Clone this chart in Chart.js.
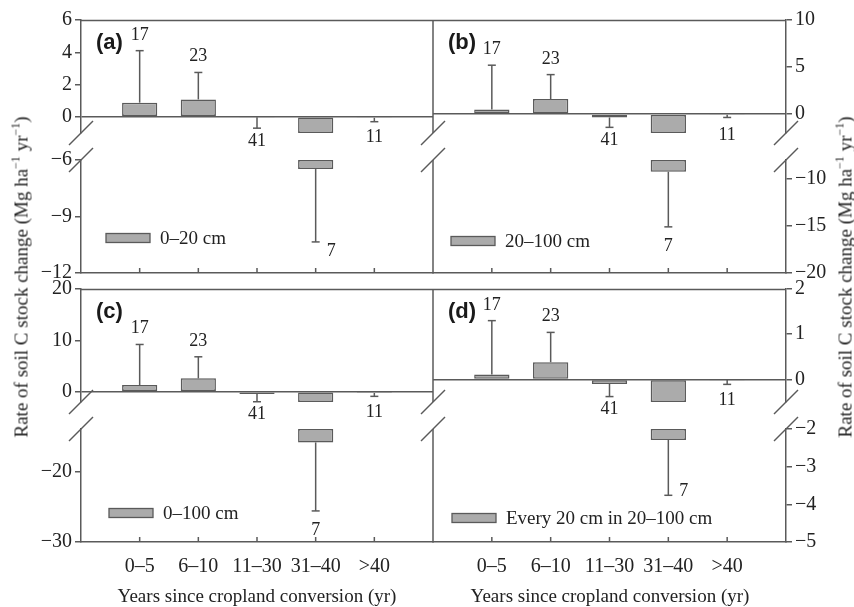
<!DOCTYPE html>
<html>
<head>
<meta charset="utf-8">
<script src="https://cdn.jsdelivr.net/npm/chart.js@4/dist/chart.umd.min.js"></script>
<style>
html,body{margin:0;padding:0;background:#fff;}
#wrap{position:relative;width:854px;height:607px;overflow:hidden;background:#fff;}
#wrap canvas{position:absolute;left:0;top:0;}
.t{position:absolute;font-family:'Liberation Serif','Times New Roman',serif;font-size:19px;color:#222;white-space:nowrap;line-height:1;}
.t sup{font-size:12px;line-height:1;position:relative;top:-2px;vertical-align:top;}
.rot{transform:translate(-50%,-50%) rotate(-90deg);}
.ctr{transform:translate(-50%,-50%);}
</style>
</head>
<body>
<div id="wrap">
  <canvas id="ca" width="854" height="607"></canvas>
  <canvas id="cb" width="854" height="607"></canvas>
  <canvas id="cc" width="854" height="607"></canvas>
  <canvas id="cd" width="854" height="607"></canvas>
  <div class="t rot" style="left:21px;top:277px;">Rate of soil C stock change (Mg ha<sup>−1</sup> yr<sup>−1</sup>)</div>
  <div class="t rot" style="left:845px;top:277px;">Rate of soil C stock change (Mg ha<sup>−1</sup> yr<sup>−1</sup>)</div>
  <div class="t ctr" style="left:257px;top:595px;">Years since cropland conversion (yr)</div>
  <div class="t ctr" style="left:610px;top:595px;">Years since cropland conversion (yr)</div>
</div>
<script>
// ---------------- data ----------------
const categories = ['0–5', '6–10', '11–30', '31–40', '>40'];
const sampleSizes = [17, 23, 41, 7, 11];

const rate0to20 = [0.88, 1.08, -0.03, -6.48, -0.06];
const err0to20  = [3.22, 1.67, 0.67, 3.87, 0.24];

const rate20to100 = [0.5, 1.6, -0.35, -9.25, -0.05];
const err20to100  = [4.7, 2.6, 1.05, 5.85, 0.3];

const rate0to100 = [1.3, 2.6, -0.45, -15.9, -0.25];
const err0to100  = [7.9, 4.2, 1.5, 9.7, 0.65];

const rateEvery20 = [0.11, 0.38, -0.1, -2.29, -0.01];
const errEvery20  = [1.19, 0.66, 0.28, 1.47, 0.1];

const ticksA_upper = [0, 2, 4, 6];
const ticksA_lower = [-12, -9, -6];
const ticksB_upper = [0, 5, 10];
const ticksB_lower = [-20, -15, -10];
const ticksC_upper = [0, 10, 20];
const ticksC_lower = [-30, -20];
const ticksD_upper = [0, 1, 2];
const ticksD_lower = [-5, -4, -3, -2];

// ---------------- style ----------------
const LINE = '#5a5a5a';
const TEXT = '#222222';
const BAR = '#ababab';
const SERIF = "'Liberation Serif','Times New Roman',serif";
const SANS = "'Liberation Sans',Arial,sans-serif";
const AXW = 46, XH = 40;
const W_UP = 113, W_GAP = 27, W_LOW = 113;

const panels = [
  {id:'ca', tag:'(a)', label:'0–20 cm', values:rate0to20, errors:err0to20,
   upper:[-1, 6], lower:[-12, -6], upTicks:ticksA_upper, lowTicks:ticksA_lower,
   side:'left', area:{left:81, right:433, top:20, bottom:273}, showX:false,
   legend:{dx:25, dy:-35}, sideLabel:{index:3, dy:14}},
  {id:'cb', tag:'(b)', label:'20–100 cm', values:rate20to100, errors:err20to100,
   upper:[-2, 10], lower:[-20, -8], upTicks:ticksB_upper, lowTicks:ticksB_lower,
   side:'right', area:{left:433, right:786, top:20, bottom:273}, showX:false,
   legend:{dx:18, dy:-32}, sideLabel:null},
  {id:'cc', tag:'(c)', label:'0–100 cm', values:rate0to100, errors:err0to100,
   upper:[-2, 20], lower:[-30, -14], upTicks:ticksC_upper, lowTicks:ticksC_lower,
   side:'left', area:{left:81, right:433, top:289, bottom:542}, showX:true,
   legend:{dx:28, dy:-29}, sideLabel:null},
  {id:'cd', tag:'(d)', label:'Every 20 cm in 20–100 cm', values:rateEvery20, errors:errEvery20,
   upper:[-0.5, 2], lower:[-5, -2], upTicks:ticksD_upper, lowTicks:ticksD_lower,
   side:'right', area:{left:433, right:786, top:289, bottom:542}, showX:true,
   legend:{dx:19, dy:-24}, sideLabel:{index:3, dy:1}}
];

const fmt = v => (v < 0 ? '−' + Math.abs(v) : String(v));

function line(ctx, x1, y1, x2, y2) {
  ctx.beginPath(); ctx.moveTo(x1, y1); ctx.lineTo(x2, y2); ctx.stroke();
}

function makeDecor(p) {
  return {
    id: 'decor_' + p.id,
    afterDraw(chart) {
      const ctx = chart.ctx, a = chart.chartArea;
      const xs = chart.scales.x, yT = chart.scales.yTop, yB = chart.scales.yBot;
      const pix = v => (v >= p.upper[0] ? yT : yB).getPixelForValue(v);
      ctx.save();
      ctx.strokeStyle = LINE;
      ctx.lineWidth = 1.5;
      ctx.lineCap = 'butt';
      // frame: top line
      line(ctx, a.left, a.top + 0.5, a.right, a.top + 0.5);
      // opposite spine (left panels draw the shared middle line)
      if (p.side === 'left') {
        line(ctx, a.right, yT.top, a.right, yT.bottom);
        line(ctx, a.right, yB.top, a.right, yB.bottom);
      }
      // break marks
      const sx = p.side === 'left' ? [a.left, a.right] : [a.right];
      sx.forEach(x => {
        [yT.bottom, yB.top].forEach(y => line(ctx, x - 12, y + 12, x + 12, y - 12));
      });
      // inward x ticks
      categories.forEach((c, i) => {
        const cx = xs.getPixelForValue(i + 1);
        line(ctx, cx, a.bottom, cx, a.bottom - 5);
      });
      // error bars and sample sizes
      const zero = yT.getPixelForValue(0);
      ctx.fillStyle = TEXT;
      ctx.font = '18px ' + SERIF;
      p.values.forEach((v, i) => {
        const cx = xs.getPixelForValue(i + 1);
        const end = v >= 0 ? v + p.errors[i] : v - p.errors[i];
        const y0 = pix(v), y1 = pix(end);
        ctx.lineWidth = 1.5;
        line(ctx, cx, y0, cx, y1);
        line(ctx, cx - 4, y1, cx + 4, y1);
        const txt = String(sampleSizes[i]);
        ctx.textBaseline = 'alphabetic';
        if (p.sideLabel && p.sideLabel.index === i) {
          ctx.textAlign = 'left';
          ctx.fillText(txt, cx + 11, y1 + p.sideLabel.dy);
        } else if (v >= 0) {
          ctx.textAlign = 'center';
          ctx.fillText(txt, cx, y1 - 11);
        } else {
          ctx.textAlign = 'center';
          let top;
          if (end >= p.upper[0]) top = Math.max(y1 + 5, zero + 13);
          else top = y1 + 12;
          ctx.fillText(txt, cx, top + 12.5);
        }
      });
      // panel tag
      ctx.font = 'bold 22px ' + SANS;
      ctx.textAlign = 'left';
      ctx.textBaseline = 'middle';
      ctx.fillStyle = '#1a1a1a';
      ctx.fillText(p.tag, a.left + 15, a.top + 23);
      // legend
      const lx = a.left + p.legend.dx, ly = a.bottom + p.legend.dy;
      const ds = chart.data.datasets[0];
      ctx.fillStyle = ds.backgroundColor;
      ctx.fillRect(lx, ly - 4.5, 44, 9);
      ctx.lineWidth = 1.3;
      ctx.strokeStyle = LINE;
      ctx.strokeRect(lx, ly - 4.5, 44, 9);
      ctx.fillStyle = TEXT;
      ctx.font = '19px ' + SERIF;
      ctx.textBaseline = 'middle';
      ctx.fillText(ds.label, lx + 54, ly + 1);
      ctx.restore();
    }
  };
}

function yAxis(p, which) {
  const isLeft = p.side === 'left';
  const base = {
    type: 'linear',
    position: p.side,
    stack: 'panel',
    afterFit: s => { s.width = AXW; }
  };
  if (which === 'gap') {
    return Object.assign(base, {
      stackWeight: W_GAP,
      weight: 2,
      min: 0, max: 1,
      grid: {display: false},
      border: {display: false},
      ticks: {display: false}
    });
  }
  const up = which === 'up';
  const range = up ? p.upper : p.lower;
  const tks = up ? p.upTicks : p.lowTicks;
  return Object.assign(base, {
    stackWeight: up ? W_UP : W_LOW,
    weight: isLeft ? (up ? 3 : 1) : (up ? 1 : 3),
    min: range[0], max: range[1],
    afterBuildTicks: s => { s.ticks = tks.map(v => ({value: v})); },
    border: {display: true, color: LINE, width: 1.5},
    grid: {
      color: c => (up && c.tick && c.tick.value === 0 ? LINE : 'rgba(0,0,0,0)'),
      lineWidth: 1.5,
      tickColor: LINE,
      tickLength: 6,
      drawTicks: true
    },
    ticks: {
      color: TEXT,
      font: {family: SERIF, size: 20},
      padding: isLeft ? 3 : 3,
      autoSkip: false,
      callback: v => fmt(v)
    }
  });
}

panels.forEach(p => {
  const labels = ['', ...categories, ''];
  const upData = [null, ...p.values.map(v => [0, Math.max(v, p.upper[0])]), null];
  const lowData = [null, ...p.values.map(v => (v < p.lower[1] ? [p.lower[1], v] : null)), null];
  const isLeft = p.side === 'left';
  const pad = {
    left: isLeft ? p.area.left - AXW : p.area.left,
    right: isLeft ? 854 - p.area.right : 854 - p.area.right - AXW,
    top: p.area.top,
    bottom: 607 - p.area.bottom - XH
  };
  const barStyle = {
    backgroundColor: BAR,
    borderColor: LINE,
    borderWidth: 1.5,
    borderSkipped: false,
    grouped: false,
    barPercentage: 0.6,
    categoryPercentage: 1.0
  };
  new Chart(document.getElementById(p.id), {
    type: 'bar',
    data: {
      labels: labels,
      datasets: [
        Object.assign({label: p.label, data: upData, yAxisID: 'yTop'}, barStyle),
        Object.assign({label: p.label, data: lowData, yAxisID: 'yBot'}, barStyle)
      ]
    },
    options: {
      responsive: false,
      animation: false,
      events: [],
      layout: {padding: pad},
      plugins: {legend: {display: false}, tooltip: {enabled: false}},
      scales: {
        x: {
          type: 'category',
          offset: false,
          grid: {display: false},
          border: {display: true, color: LINE, width: 1.5},
          ticks: {display: p.showX, color: TEXT, font: {family: SERIF, size: 20},
                  padding: 5, autoSkip: false, maxRotation: 0},
          afterFit: s => { s.height = XH; }
        },
        yTop: yAxis(p, 'up'),
        yGap: yAxis(p, 'gap'),
        yBot: yAxis(p, 'low')
      }
    },
    plugins: [makeDecor(p)]
  });
});
</script>
</body>
</html>
